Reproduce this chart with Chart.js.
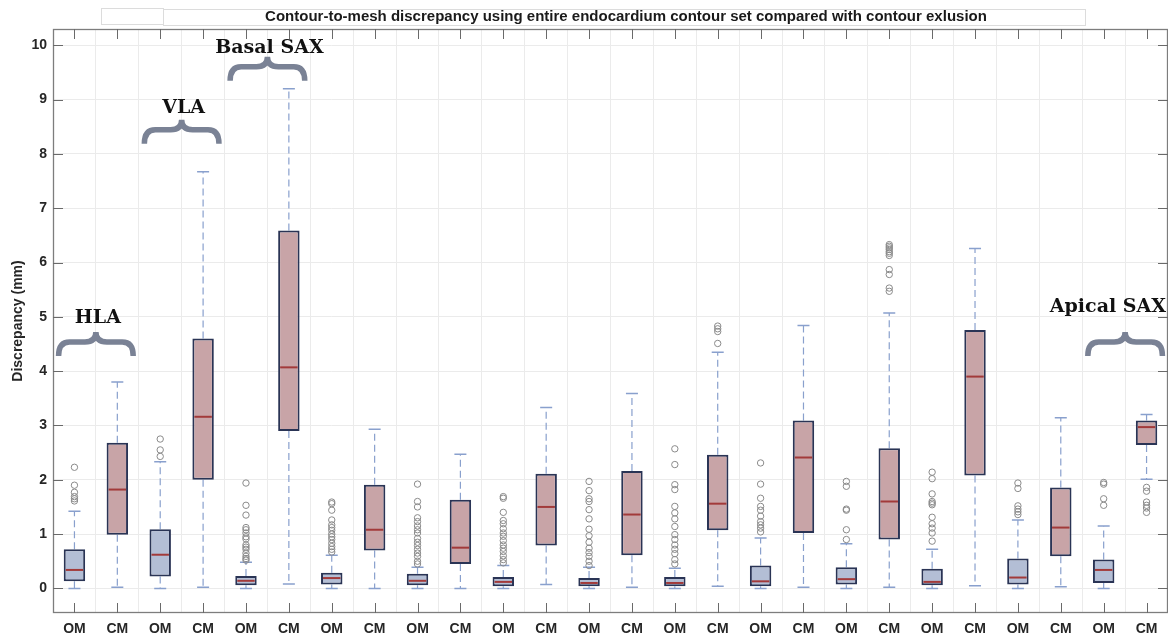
<!DOCTYPE html>
<html>
<head>
<meta charset="utf-8">
<script src="https://cdn.jsdelivr.net/npm/chart.js@4.4.0/dist/chart.umd.min.js"></script>
<style>
  html, body { margin: 0; padding: 0; background: #fff; }
</style>
</head>
<body>
<canvas id="box-chart" width="1168" height="639"></canvas>
<script>
// one OM / CM pair per slice
const labels = ["OM","CM","OM","CM","OM","CM","OM","CM","OM","CM","OM","CM","OM",
                "CM","OM","CM","OM","CM","OM","CM","OM","CM","OM","CM","OM","CM"];

const q1     = [0.13,0.99,0.22,2.00,0.06,2.90,0.07,0.70,0.06,0.45,0.04,0.79,0.04,
                0.61,0.04,1.07,0.04,1.02,0.07,0.90,0.06,2.08,0.07,0.59,0.10,2.64];
const median = [0.34,1.82,0.62,3.16,0.14,4.07,0.19,1.08,0.14,0.75,0.12,1.50,0.10,
                1.36,0.10,1.56,0.13,2.41,0.17,1.60,0.12,3.90,0.20,1.12,0.34,2.97];
const q3     = [0.72,2.68,1.09,4.60,0.23,6.59,0.29,1.91,0.27,1.63,0.21,2.11,0.19,
                2.16,0.21,2.46,0.42,3.09,0.39,2.58,0.36,4.76,0.55,1.86,0.53,3.09];
const whiskerLow  = [0,0.02,0,0.02,0,0.08,0,0,0,0,0,0.07,0,
                     0.02,0,0.04,0,0.02,0,0.02,0,0.05,0,0.03,0,2.01];
const whiskerHigh = [1.42,3.80,2.33,7.67,0.48,9.20,0.61,2.93,0.39,2.47,0.42,3.33,0.39,
                     3.59,0.37,4.35,0.93,4.84,0.82,5.07,0.72,6.26,1.26,3.14,1.15,3.20];
const outliers = [
  [2.23,1.90,1.77,1.69,1.65,1.61],
  [],
  [2.75,2.55,2.43],
  [],
  [1.94,1.53,1.35,1.12,1.08,1.02,0.95,0.91,0.80,0.76,0.72,0.65,0.59,0.55,0.52],
  [],
  [1.59,1.56,1.44,1.26,1.17,1.12,1.07,1.00,0.95,0.90,0.83,0.77,0.72,0.67],
  [],
  [1.92,1.60,1.50,1.30,1.23,1.15,1.08,1.02,0.92,0.85,0.79,0.72,0.65,0.59,0.50,0.45],
  [],
  [1.69,1.66,1.40,1.25,1.19,1.10,1.02,0.96,0.88,0.80,0.74,0.68,0.60,0.53,0.47],
  [],
  [1.97,1.80,1.65,1.60,1.45,1.28,1.09,0.97,0.85,0.74,0.66,0.59,0.50,0.42],
  [],
  [2.57,2.28,1.91,1.82,1.51,1.39,1.28,1.14,0.99,0.90,0.80,0.72,0.64,0.53,0.45],
  [4.51,4.73,4.78,4.83],
  [2.31,1.92,1.66,1.51,1.44,1.33,1.23,1.17,1.11,1.04],
  [],
  [1.97,1.88,1.46,1.44,1.08,0.90],
  [6.33,6.30,6.27,6.24,6.20,6.17,6.13,5.87,5.78,5.53,5.47],
  [2.14,2.02,1.74,1.60,1.57,1.54,1.31,1.19,1.11,1.02,0.87],
  [],
  [1.94,1.84,1.52,1.46,1.41,1.36],
  [],
  [1.95,1.92,1.65,1.53],
  [1.86,1.79,1.59,1.53,1.48,1.40]
];
const yTicks = [0,1,2,3,4,5,6,7,8,9,10];

const groupNames = ["HLA","VLA","Basal SAX","Apical SAX"];
const groupStart = [0, 2, 4, 24];

const omFill = "#b3bed5", cmFill = "#c8a4a7";
const edge = "#2a3455", medColor = "#a23a3a", whColor = "#89a0cd";

// brace/label placement (value of the brace tip, value of the label baseline)
const braceTip   = [4.72, 8.63, 9.79, 4.72];
const labelBase  = [4.89, 8.76, 9.86, 5.09];

const boxParts = {
  id: "boxParts",
  beforeDatasetsDraw(chart) {
    const ctx = chart.ctx, x = chart.scales.x, y = chart.scales.y;
    const step = x.getPixelForValue(1) - x.getPixelForValue(0);
    ctx.save();
    ctx.strokeStyle = whColor;
    for (let i = 0; i < labels.length; i++) {
      const px = x.getPixelForValue(i);
      ctx.lineWidth = 1.2;
      ctx.setLineDash([7, 4]);
      ctx.beginPath();
      ctx.moveTo(px, y.getPixelForValue(q3[i]));
      ctx.lineTo(px, y.getPixelForValue(whiskerHigh[i]));
      ctx.moveTo(px, y.getPixelForValue(q1[i]));
      ctx.lineTo(px, y.getPixelForValue(whiskerLow[i]));
      ctx.stroke();
      ctx.setLineDash([]);
      ctx.lineWidth = 1.5;
      ctx.beginPath();
      const cw = step * 0.14;
      ctx.moveTo(px - cw, y.getPixelForValue(whiskerHigh[i]));
      ctx.lineTo(px + cw, y.getPixelForValue(whiskerHigh[i]));
      ctx.moveTo(px - cw, y.getPixelForValue(whiskerLow[i]));
      ctx.lineTo(px + cw, y.getPixelForValue(whiskerLow[i]));
      ctx.stroke();
    }
    ctx.restore();
  },
  afterDatasetsDraw(chart) {
    const ctx = chart.ctx, x = chart.scales.x, y = chart.scales.y;
    const a = chart.chartArea;
    const step = x.getPixelForValue(1) - x.getPixelForValue(0);
    ctx.save();
    // medians
    ctx.strokeStyle = medColor;
    ctx.lineWidth = 2;
    for (let i = 0; i < labels.length; i++) {
      const px = x.getPixelForValue(i), py = y.getPixelForValue(median[i]);
      ctx.beginPath();
      ctx.moveTo(px - step * 0.25 + 2, py);
      ctx.lineTo(px + step * 0.25 - 2, py);
      ctx.stroke();
    }
    // axes box with inward ticks
    ctx.strokeStyle = "#7d7d7d";
    ctx.lineWidth = 1.3;
    ctx.strokeRect(a.left + 0.5, a.top + 0.5, a.right - a.left - 1, a.bottom - a.top - 1);
    ctx.strokeStyle = "#6a6a6a";
    ctx.lineWidth = 1;
    ctx.beginPath();
    for (let i = 0; i < labels.length; i++) {
      const px = Math.round(x.getPixelForValue(i)) + 0.5;
      ctx.moveTo(px, a.bottom); ctx.lineTo(px, a.bottom - 10);
      ctx.moveTo(px, a.top); ctx.lineTo(px, a.top + 10);
    }
    yTicks.forEach(v => {
      const py = Math.round(y.getPixelForValue(v)) + 0.5;
      ctx.moveTo(a.left, py); ctx.lineTo(a.left + 10, py);
      ctx.moveTo(a.right, py); ctx.lineTo(a.right - 10, py);
    });
    ctx.stroke();
    // group braces and labels
    ctx.strokeStyle = "#7a8295";
    ctx.lineWidth = 5.5;
    ctx.fillStyle = "#111";
    ctx.font = "bold 19px 'DejaVu Serif'";
    ctx.textBaseline = "alphabetic";
    groupNames.forEach((name, g) => {
      const xl = x.getPixelForValue(groupStart[g]) - step * 0.37;
      const xr = x.getPixelForValue(groupStart[g] + 1) + step * 0.37;
      const xc = (xl + xr) / 2;
      const yt = y.getPixelForValue(braceTip[g]);
      const ym = yt + 10, ye = yt + 24, h = 11;
      ctx.beginPath();
      ctx.moveTo(xl, ye);
      ctx.quadraticCurveTo(xl, ym, xl + h, ym);
      ctx.lineTo(xc - h, ym);
      ctx.quadraticCurveTo(xc, ym, xc, yt);
      ctx.quadraticCurveTo(xc, ym, xc + h, ym);
      ctx.lineTo(xr - h, ym);
      ctx.quadraticCurveTo(xr, ym, xr, ye);
      ctx.stroke();
      if (xc + 60 > chart.width) {
        ctx.textAlign = "right";
        ctx.fillText(name, chart.width - 2, y.getPixelForValue(labelBase[g]));
      } else {
        ctx.textAlign = "center";
        ctx.fillText(name, xc + 2, y.getPixelForValue(labelBase[g]));
      }
    });
    // title with its faint frame
    ctx.strokeStyle = "#dcdcdc";
    ctx.lineWidth = 1;
    ctx.strokeRect(101.5, 8.5, 62, 16);
    ctx.strokeRect(163.5, 9.5, 922, 16);
    ctx.fillStyle = "#1a1a1a";
    ctx.textAlign = "center";
    ctx.textBaseline = "middle";
    ctx.font = "bold 15px 'Liberation Sans'";
    ctx.fillText("Contour-to-mesh discrepancy using entire endocardium contour set compared with contour exlusion", 626, 17);
    ctx.restore();
  }
};

const outlierPoints = [];
outliers.forEach((list, i) => list.forEach(v => outlierPoints.push({x: i, y: v})));

new Chart(document.getElementById("box-chart"), {
  type: "bar",
  data: {
    datasets: [{
        data: q1.map((v, i) => ({x: i, y: [v, q3[i]]})),
        backgroundColor: labels.map(l => l === "OM" ? omFill : cmFill),
        borderColor: edge,
        borderWidth: 2,
        borderSkipped: false,
        barPercentage: 0.5,
        categoryPercentage: 1.0
      }, {
        type: "scatter",
        data: outlierPoints,
        pointRadius: 3.2,
        pointBorderWidth: 1,
        pointBorderColor: "#8a8a8a",
        pointBackgroundColor: "rgba(0,0,0,0)"
      }
    ]
  },
  options: {
    responsive: false,
    animation: false,
    layout: { autoPadding: false, padding: { top: 29, right: 0, left: 0, bottom: 0 } },
    plugins: { legend: { display: false }, tooltip: { enabled: false } },
    scales: {
      x: {
        type: "linear",
        min: -0.5,
        max: 25.5,
        offset: false,
        afterBuildTicks(s) { s.ticks = labels.map((l, i) => ({value: i})); },
        grid: { color: "#ebebeb", drawTicks: false },
        border: { display: false },
        ticks: { color: "#262626", font: { family: "Liberation Sans", weight: "bold", size: 14 },
                 padding: 8, maxRotation: 0, autoSkip: false,
                 callback: v => labels[v] },
        afterFit(s) { s.height = 26; s.paddingLeft = 0; s.paddingRight = 0; }
      },
      y: {
        min: -0.453,
        max: 10.30,
        afterBuildTicks(s) { s.ticks = yTicks.map(v => ({value: v})); },
        grid: { color: "#ebebeb", drawTicks: false },
        border: { display: false },
        ticks: { color: "#262626", font: { family: "Liberation Sans", weight: "bold", size: 14 }, padding: 6 },
        title: { display: true, text: "Discrepancy (mm)", color: "#262626",
                 font: { family: "Liberation Sans", weight: "bold", size: 14 }, padding: { top: 10 } },
        afterFit(s) { s.width = 53; }
      }
    }
  },
  plugins: [boxParts]
});
</script>
</body>
</html>
